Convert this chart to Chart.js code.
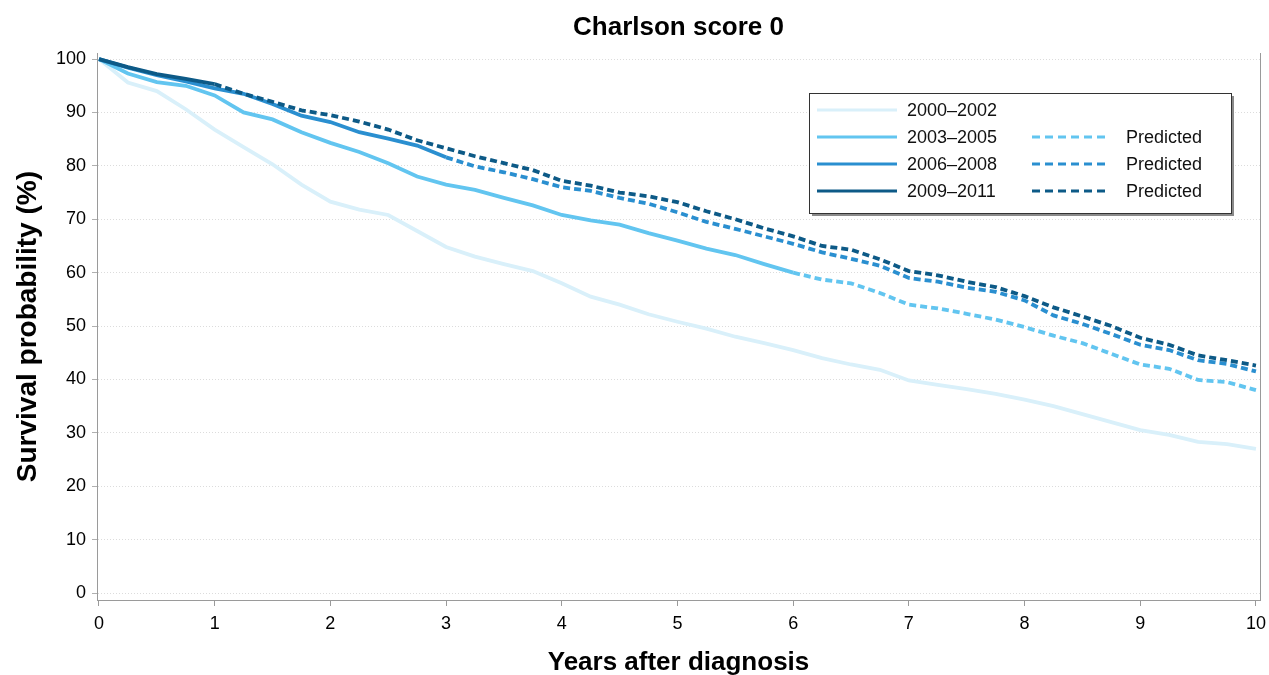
<!DOCTYPE html>
<html>
<head>
<meta charset="utf-8">
<script src="https://cdn.jsdelivr.net/npm/chart.js@4.4.1/dist/chart.umd.min.js"></script>
<style>
  html, body { margin: 0; padding: 0; background: #fff; }
</style>
</head>
<body>
<canvas id="survivalChart" width="1269" height="675"></canvas>
<script>
// years after diagnosis (quarter-year readings)
const years = [0, 0.25, 0.5, 0.75, 1, 1.25, 1.5, 1.75, 2, 2.25, 2.5, 2.75, 3, 3.25, 3.5, 3.75, 4, 4.25, 4.5, 4.75,
  5, 5.25, 5.5, 5.75, 6, 6.25, 6.5, 6.75, 7, 7.25, 7.5, 7.75, 8, 8.25, 8.5, 8.75, 9, 9.25, 9.5, 9.75, 10];

const surv2000 = [100, 95.6, 94.0, 90.6, 86.8, 83.5, 80.3, 76.5, 73.3, 71.8, 70.8, 67.8, 64.8, 63.0, 61.6, 60.3, 58.0, 55.5, 54.0, 52.2,
  50.8, 49.5, 48.0, 46.8, 45.5, 44.0, 42.8, 41.8, 39.8, 39.0, 38.2, 37.3, 36.2, 35.0, 33.5, 32.0, 30.5, 29.6, 28.3, 27.9, 27.0];
const surv2003 = [100, 97.3, 95.7, 95.0, 93.2, 90.0, 88.7, 86.3, 84.3, 82.6, 80.5, 78.0, 76.5, 75.5, 74.0, 72.6, 70.8, 69.8, 69.0, 67.4,
  66.0, 64.5, 63.3, 61.6, 60.0, 58.7, 58.0, 56.2, 54.0, 53.3, 52.3, 51.2, 49.8, 48.2, 46.8, 44.8, 42.8, 42.0, 39.9, 39.5, 38.0];
const surv2006 = [100, 98.4, 97.0, 95.8, 94.5, 93.5, 91.6, 89.4, 88.2, 86.3, 85.1, 83.8, 81.6, 79.9, 78.8, 77.5, 76.0, 75.3, 74.0, 72.9,
  71.3, 69.5, 68.2, 66.8, 65.4, 63.8, 62.6, 61.3, 59.0, 58.3, 57.2, 56.4, 54.8, 52.0, 50.4, 48.5, 46.5, 45.5, 43.6, 42.9, 41.5];
const surv2009 = [100, 98.5, 97.2, 96.3, 95.3, 93.5, 92.0, 90.4, 89.5, 88.3, 86.8, 84.8, 83.3, 81.8, 80.5, 79.2, 77.2, 76.3, 75.0, 74.3,
  73.2, 71.5, 70.0, 68.3, 66.8, 65.0, 64.3, 62.5, 60.3, 59.5, 58.3, 57.3, 55.6, 53.5, 51.8, 50.0, 47.8, 46.5, 44.5, 43.6, 42.6];

// observed follow-up ends here, prediction after
const observedUntil = { p2003: 6, p2006: 3, p2009: 1 };

const periods = ['2000–2002', '2003–2005', '2006–2008', '2009–2011'];
const colors = ['#d9f0fa', '#62c5f0', '#2a8fd0', '#0d5a87'];
const FONT = "'Liberation Sans', Arial, Helvetica, sans-serif";

function toPoints(values, from, to) {
  const pts = [];
  for (let i = 0; i < years.length; i++) {
    if (years[i] >= from && years[i] <= to) pts.push({ x: years[i], y: values[i] });
  }
  return pts;
}

function lineSet(label, values, from, to, color, dashed, order) {
  return {
    label: label,
    data: toPoints(values, from, to),
    borderColor: color,
    borderWidth: 3.8,
    borderDash: dashed ? [7, 4] : [],
    pointRadius: 0,
    tension: 0,
    fill: false,
    order: order
  };
}

const datasets = [
  lineSet(periods[0], surv2000, 0, 10, colors[0], false, 7),
  lineSet(periods[1], surv2003, 0, observedUntil.p2003, colors[1], false, 6),
  lineSet('Predicted', surv2003, observedUntil.p2003, 10, colors[1], true, 5),
  lineSet(periods[2], surv2006, 0, observedUntil.p2006, colors[2], false, 4),
  lineSet('Predicted', surv2006, observedUntil.p2006, 10, colors[2], true, 3),
  lineSet(periods[3], surv2009, 0, observedUntil.p2009, colors[3], false, 2),
  lineSet('Predicted', surv2009, observedUntil.p2009, 10, colors[3], true, 1)
];

// two-column legend in a framed box with a drop shadow
const boxLegend = {
  id: 'boxLegend',
  afterDraw(chart) {
    const ctx = chart.ctx;
    const x = 809, y = 93, w = 422, h = 120;
    ctx.save();
    ctx.fillStyle = '#8a8a8a';
    ctx.fillRect(x + 3, y + 3, w, h);
    ctx.fillStyle = '#fff';
    ctx.fillRect(x, y, w, h);
    ctx.strokeStyle = '#333';
    ctx.lineWidth = 1;
    ctx.strokeRect(x + 0.5, y + 0.5, w, h);

    ctx.font = '18px ' + FONT;
    ctx.textBaseline = 'middle';
    ctx.fillStyle = '#111';
    const rowY = [110, 137, 164, 191];
    periods.forEach((p, i) => {
      const ry = rowY[i];
      ctx.lineWidth = 3;
      ctx.strokeStyle = colors[i];
      ctx.setLineDash([]);
      ctx.beginPath();
      ctx.moveTo(817, ry);
      ctx.lineTo(897, ry);
      ctx.stroke();
      ctx.fillText(p, 907, ry + 1);
      if (i > 0) {
        ctx.setLineDash([8, 5]);
        ctx.beginPath();
        ctx.moveTo(1032, ry);
        ctx.lineTo(1110, ry);
        ctx.stroke();
        ctx.setLineDash([]);
        ctx.fillText('Predicted', 1126, ry + 1);
      }
    });
    ctx.restore();
  }
};

new Chart(document.getElementById('survivalChart'), {
  type: 'line',
  data: { datasets: datasets },
  plugins: [boxLegend],
  options: {
    responsive: false,
    animation: false,
    layout: { padding: { left: 0, right: 9, top: 0, bottom: 0 } },
    plugins: {
      legend: { display: false },
      tooltip: { enabled: false },
      title: {
        display: true,
        text: 'Charlson score 0',
        fullSize: false,
        color: '#000',
        font: { family: FONT, size: 26, weight: 'bold', lineHeight: 1.2 },
        padding: { top: 12, bottom: 10 }
      }
    },
    scales: {
      x: {
        type: 'linear',
        position: 'bottom',
        min: -0.017,
        max: 10.035,
        ticks: { stepSize: 1, includeBounds: false, color: '#000', padding: 7, font: { family: FONT, size: 18 } },
        grid: { drawOnChartArea: false, drawTicks: true, tickLength: 6, tickColor: '#9a9a9a' },
        border: { color: '#9a9a9a', width: 1 },
        title: {
          display: true,
          text: 'Years after diagnosis',
          color: '#000',
          font: { family: FONT, size: 26, weight: 'bold', lineHeight: 0.9 },
          padding: 0
        },
        afterFit: s => { s.height = 75; s.paddingLeft = 0; s.paddingRight = 0; }
      },
      y: {
        min: -1.31,
        max: 101.1,
        ticks: { stepSize: 10, includeBounds: false, color: '#000', padding: 6, font: { family: FONT, size: 18 } },
        grid: { color: '#dcdcdc', lineWidth: 1, tickLength: 5, tickColor: '#b0b0b0' },
        border: { color: '#9a9a9a', width: 1, dash: [1, 2] },
        title: {
          display: true,
          text: 'Survival probability (%)',
          color: '#000',
          font: { family: FONT, size: 28, weight: 'bold', lineHeight: 1.2 },
          padding: { top: 11, bottom: 0 }
        },
        afterFit: s => { s.width = 97; s.paddingTop = 0; s.paddingBottom = 0; }
      },
      yRight: {
        position: 'right',
        min: 0,
        max: 100,
        ticks: { display: false },
        grid: { display: false, drawTicks: false },
        border: { color: '#9a9a9a', width: 1 },
        afterFit: s => { s.width = 0; }
      }
    }
  }
});
</script>
</body>
</html>
